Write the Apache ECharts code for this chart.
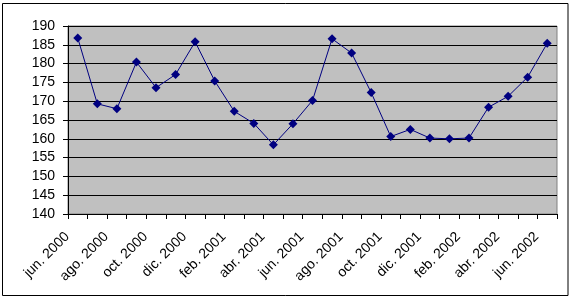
<!DOCTYPE html>
<html><head><meta charset="utf-8">
<script src="https://cdn.jsdelivr.net/npm/echarts@6/dist/echarts.min.js"></script>
<style>html,body{margin:0;padding:0;background:#fff}#c{width:572px;height:299px}</style>
</head><body><div id="c"></div>
<script>
const categories = ['jun. 2000','jul. 2000','ago. 2000','sep. 2000','oct. 2000','nov. 2000','dic. 2000','ene. 2001','feb. 2001','mar. 2001','abr. 2001','may. 2001','jun. 2001','jul. 2001','ago. 2001','sep. 2001','oct. 2001','nov. 2001','dic. 2001','ene. 2002','feb. 2002','mar. 2002','abr. 2002','may. 2002','jun. 2002'];
const values = [186.8,169.3,168.0,180.4,173.6,177.1,185.8,175.4,167.3,164.1,158.4,164.0,170.2,186.6,182.8,172.3,160.6,162.5,160.2,160.0,160.2,168.4,171.3,176.4,185.4];
const yMin = 140, yMax = 190, yStep = 5;

const chart = echarts.init(document.getElementById('c'), null, {renderer:'canvas'});
chart.setOption({
  animation:false,
  graphic:[{type:'rect',shape:{x:2.5,y:3.5,width:565.5,height:292},style:{fill:'none',stroke:'#000',lineWidth:1},silent:true,z:-1}],
  grid:{left:68,right:15,top:26,bottom:85,show:true,backgroundColor:'#c0c0c0',borderColor:'#808080',borderWidth:1},
  xAxis:{type:'category',data:categories,boundaryGap:true,
    axisLine:{lineStyle:{color:'#000',width:1}},
    axisTick:{show:true,interval:0,length:5,lineStyle:{color:'#000'}},
    axisLabel:{interval:1,rotate:45,color:'#000',fontFamily:'Liberation Sans, Arial, sans-serif',fontSize:14,margin:10,padding:[0,15,0,0]},
    splitLine:{show:false}},
  yAxis:{type:'value',min:yMin,max:yMax,interval:yStep,
    axisLine:{show:true,lineStyle:{color:'#000',width:1}},
    axisTick:{show:true,length:5,lineStyle:{color:'#000'}},
    axisLabel:{color:'#000',fontFamily:'Liberation Sans, Arial, sans-serif',fontSize:14,margin:13},
    splitLine:{show:true,lineStyle:{color:'#000',width:1}}},
  series:[{type:'line',data:values,symbol:'diamond',symbolSize:9,
    lineStyle:{color:'#000080',width:1},itemStyle:{color:'#000080'}}]
});
</script></body></html>
